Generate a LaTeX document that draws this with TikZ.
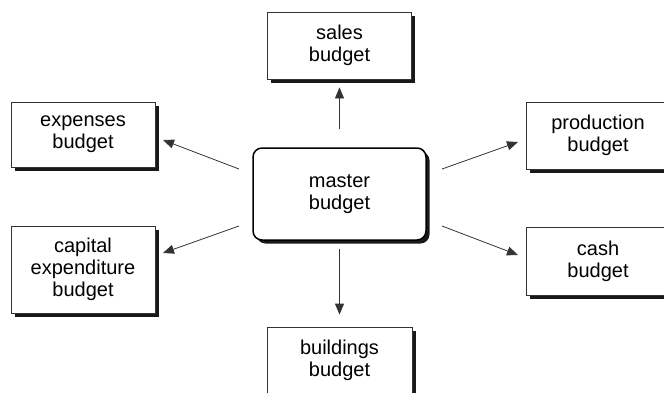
\documentclass[tikz,border=0pt]{standalone}
\usepackage{fontspec}
\setmainfont{Liberation Sans}
\usetikzlibrary{arrows.meta,shadows}
\begin{document}
\begin{tikzpicture}[x=1pt,y=-1pt,
  bx/.style={draw=black!80, line width=0.8pt, fill=white, align=center,
    inner sep=0pt, font=\fontsize{20}{22}\selectfont,
    minimum width=144pt, minimum height=67pt,
    drop shadow={shadow xshift=3.5pt, shadow yshift=-3.5pt, fill=black!90, opacity=1}},
  mbx/.style={bx, draw=black, line width=1.5pt, rounded corners=9pt,
    minimum width=173pt, minimum height=92pt},
  arr/.style={draw=black!80, line width=0.8pt, -{Triangle[length=11pt,width=9pt]}}]
\useasboundingbox (0,0) rectangle (664,392);
\clip (0,0) rectangle (664,392);
\node[mbx] (master) at (339.5,194) {master\\budget};
\node[bx] (sales) at (339.5,45.5) {sales\\budget};
\node[bx, minimum height=65pt] (expenses) at (83,134.5) {expenses\\budget};
\node[bx, minimum height=87pt] (capital) at (83,269.5) {capital\\expenditure\\budget};
\node[bx] (production) at (598,135.5) {production\\budget};
\node[bx, minimum height=68pt] (cash) at (598,261) {cash\\budget};
\node[bx, minimum width=145pt] (buildings) at (339.5,360.5) {buildings\\budget};
\coordinate (m1) at (239,169);
\coordinate (m2) at (239,226);
\coordinate (m3) at (442,169);
\coordinate (m4) at (442,226);
\coordinate (e1) at (163,140);
\coordinate (e2) at (163,253);
\coordinate (e3) at (518,142);
\coordinate (e4) at (518,255);
\draw[arr, shorten <=18pt, shorten >=8pt] (master.north) -- (sales.south);
\draw[arr, shorten <=8pt, shorten >=12pt] (master.south) -- (buildings.north);
\draw[arr] (m1) -- (e1);
\draw[arr] (m2) -- (e2);
\draw[arr] (m3) -- (e3);
\draw[arr] (m4) -- (e4);
\end{tikzpicture}
\end{document}
